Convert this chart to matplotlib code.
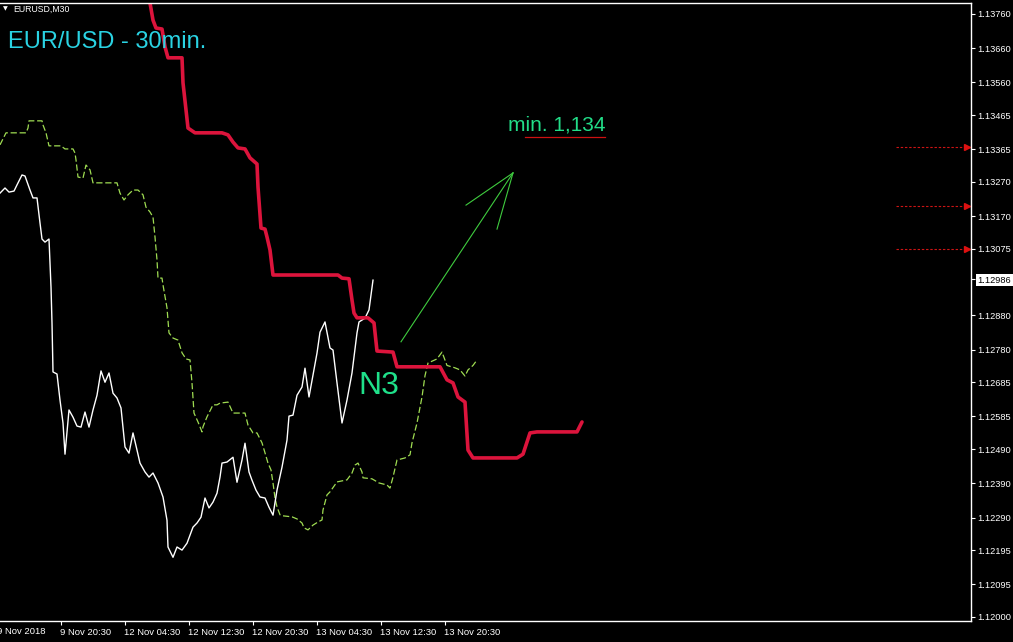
import matplotlib
matplotlib.use("Agg")
import matplotlib.pyplot as plt
from matplotlib import font_manager
import matplotlib.transforms as mtransforms

W, H = 1013, 642

# bar index: one 30 min bar per step, 0 = 9 Nov 12:30
white_x = [0.75, 2, 3, 4.25, 5, 6.25, 7, 8.25, 9, 10,
           10.75, 11.25, 12, 13, 13.5, 13.75, 14, 15, 15.75, 16.5,
           17, 18, 19, 20, 21, 22, 23, 24, 25, 26,
           27, 28, 29, 30, 31, 32, 33, 34, 35, 35.75,
           37, 38, 39, 40.25, 41.5, 42.5, 42.75, 44, 45, 46.25,
           47.5, 49, 50, 51, 52, 53, 54, 55, 55.75, 56.25,
           57.5, 59, 60, 61.25, 62, 63, 63.75, 64.75, 65.75, 67,
           68, 69, 70, 71.25, 72.5, 73, 74, 75, 76.25, 77,
           78, 79, 80, 80.75, 82, 83.25, 84, 85, 86.25, 87.5,
           88.75, 90, 90.5, 92, 93, 94]
white_y = [1.13237, 1.13252, 1.13240, 1.13243, 1.13261, 1.13290, 1.13287, 1.13246, 1.13223, 1.13223,
           1.13150, 1.13103, 1.13094, 1.13103, 1.12963, 1.12858, 1.12715, 1.12709, 1.12633, 1.12566,
           1.12475, 1.12604, 1.12583, 1.12557, 1.12554, 1.12598, 1.12554, 1.12604, 1.12647, 1.12718,
           1.12685, 1.12712, 1.12653, 1.12639, 1.12610, 1.12496, 1.12478, 1.12537, 1.12487, 1.12449,
           1.12423, 1.12408, 1.12420, 1.12391, 1.12350, 1.12282, 1.12204, 1.12174, 1.12204, 1.12195,
           1.12215, 1.12262, 1.12274, 1.12291, 1.12347, 1.12318, 1.12335, 1.12361, 1.12408, 1.12449,
           1.12452, 1.12466, 1.12393, 1.12458, 1.12507, 1.12423, 1.12399, 1.12370, 1.12350, 1.12347,
           1.12320, 1.12297, 1.12370, 1.12437, 1.12516, 1.12586, 1.12589, 1.12647, 1.12671, 1.12726,
           1.12642, 1.12706, 1.12770, 1.12831, 1.12861, 1.12785, 1.12779, 1.12683, 1.12566, 1.12633,
           1.12712, 1.12829, 1.12861, 1.12872, 1.12896, 1.12983]

green_x = [0.75, 2.25, 7.25, 7.75, 8, 11.25, 11.5, 12.25, 13, 16,
           17, 19, 19.5, 19.75, 20.25, 21.5, 22.25, 23.25, 24, 30,
           30.75, 31.75, 32.75, 34, 35.25, 36.5, 37.25, 38.25, 39, 39.5,
           40, 40.25, 41.25, 41.5, 42.5, 43, 44, 45.25, 46.25, 47.25,
           48.25, 48.75, 49.25, 50.25, 51.25, 51.5, 52.5, 54, 55, 55.75,
           57.75, 59, 62, 62.75, 64, 65, 66.25, 67, 67.75, 68.5,
           69, 69.5, 70, 70.75, 71.5, 73.75, 75, 76.25, 76.75, 77.75,
           79, 80.25, 81.25, 81.5, 82.5, 83.25, 85, 87.5, 88.75, 89.5,
           90.25, 91.25, 91.5, 93.75, 95.5, 97.5, 98.25, 99, 100, 102,
           103.25, 103.75, 105, 106.25, 107, 107.75, 110, 111.25, 112.5, 114.5,
           115.75, 117, 117.75, 119, 120]
green_y = [1.13378, 1.13413, 1.13413, 1.13427, 1.13448, 1.13448, 1.13436, 1.13413, 1.13375, 1.13375,
           1.13366, 1.13366, 1.13354, 1.13334, 1.13284, 1.13281, 1.13319, 1.13305, 1.13267, 1.13267,
           1.13237, 1.13217, 1.13232, 1.13246, 1.13246, 1.13232, 1.13196, 1.13182, 1.13167, 1.13109,
           1.13042, 1.12989, 1.12989, 1.12969, 1.12902, 1.12829, 1.12814, 1.12808, 1.12771, 1.12753,
           1.12750, 1.12683, 1.12595, 1.12569, 1.12540, 1.12555, 1.12584, 1.12619, 1.12619, 1.12624,
           1.12627, 1.12595, 1.12595, 1.12560, 1.12537, 1.12537, 1.12508, 1.12479, 1.12449, 1.12429,
           1.12391, 1.12347, 1.12321, 1.12298, 1.12295, 1.12292, 1.12286, 1.12274, 1.12260, 1.12254,
           1.12268, 1.12277, 1.12283, 1.12312, 1.12356, 1.12365, 1.12394, 1.12400, 1.12420, 1.12443,
           1.12449, 1.12423, 1.12406, 1.12403, 1.12391, 1.12385, 1.12376, 1.12408, 1.12458, 1.12464,
           1.12473, 1.12508, 1.12566, 1.12642, 1.12704, 1.12741, 1.12753, 1.12773, 1.12734, 1.12727,
           1.12721, 1.12703, 1.12721, 1.12734, 1.12750]

red_x = [38, 38.25, 39, 39.75, 41.25, 42, 42.75, 46.25, 46.5, 47.25,
         47.75, 49.5, 56.25, 57.75, 59, 60.25, 62, 63.25, 65, 65.25,
         66, 67, 67.5, 68.25, 69, 85.25, 86.25, 88, 88.75, 89.25,
         90, 92.75, 94.25, 95, 99, 100, 110.75, 112.5, 114, 115.25,
         117, 117.75, 119, 130, 131.5, 133.25, 135, 145, 146.25]
red_y = [1.13815, 1.13792, 1.13742, 1.13719, 1.13716, 1.13664, 1.13632, 1.13632, 1.13559, 1.13480,
         1.13427, 1.13413, 1.13413, 1.13407, 1.13386, 1.13369, 1.13366, 1.13340, 1.13322, 1.13255,
         1.13135, 1.13132, 1.13109, 1.13071, 1.12998, 1.12998, 1.12989, 1.12987, 1.12925, 1.12887,
         1.12873, 1.12873, 1.12858, 1.12776, 1.12773, 1.12730, 1.12730, 1.12692, 1.12683, 1.12642,
         1.12627, 1.12487, 1.12464, 1.12464, 1.12475, 1.12537, 1.12540, 1.12540, 1.12569]

# arrow drawn on chart: tail, tip, two barbs
arrow_x = [101, 129, 117.25, 125]
arrow_y = [1.12803, 1.13296, 1.13202, 1.13132]

alert_levels = [1.13372, 1.13200, 1.13075]

price_ticks = [1.13760, 1.13660, 1.13560, 1.13465, 1.13365, 1.13270, 1.13170, 1.13075,
               1.12986, 1.12880, 1.12780, 1.12685, 1.12585, 1.12490, 1.12390, 1.12290,
               1.12195, 1.12095, 1.12000]
current_price = 1.12986

time_ticks = [16, 32, 48, 64, 80, 96, 112]
time_labels = ["9 Nov 20:30", "12 Nov 04:30", "12 Nov 12:30", "12 Nov 20:30",
               "13 Nov 04:30", "13 Nov 12:30", "13 Nov 20:30"]
first_label = "9 Nov 2018"

installed = {f.name for f in font_manager.fontManager.ttflist}
base_font = "Liberation Sans"
narrow_font = "Liberation Sans Narrow" if "Liberation Sans Narrow" in installed else base_font

fig = plt.figure(figsize=(W / 100, H / 100), dpi=100, facecolor="black")
ax = fig.add_axes([0, 21 / H, 971 / W, 618 / H])
ax.set_facecolor("black")

ax.plot(green_x, green_y, color="#9fdc52", lw=0.9, dashes=(5, 2.2))
ax.plot(white_x, white_y, color="white", lw=1.0)
ax.plot(red_x, red_y, color="#dc143c", lw=2.6, solid_joinstyle="round", solid_capstyle="round")

# arrow object
ax.plot(arrow_x[:2], arrow_y[:2], color="#3fcc3f", lw=0.8)
ax.plot([arrow_x[1], arrow_x[2]], [arrow_y[1], arrow_y[2]], color="#3fcc3f", lw=0.8)
ax.plot([arrow_x[1], arrow_x[3]], [arrow_y[1], arrow_y[3]], color="#3fcc3f", lw=0.8)

ax.text(127.75, 1.13437, "min. 1,134", color="#22dd88", fontsize=15,
        family=narrow_font, va="center", ha="left")
ax.plot([132, 152], [1.13401, 1.13401], color="#cc1111", lw=0.9)
ax.text(90.25, 1.12674, "N3", color="#1fe08a", fontsize=23,
        family=narrow_font, va="center", ha="left")

# alert lines at the right edge
for lvl in alert_levels:
    ax.plot([224.75, 242.5], [lvl, lvl], color="#cc1414", lw=0.8, dashes=(2.2, 1.6))
    ax.plot([242.6], [lvl], marker=">", color="#dd1111", markersize=4.5, linestyle="none")

ax.set_xlim(0.75, 243.5)
ax.set_ylim(1.11988, 1.13792)

for side in ["top", "right", "bottom"]:
    ax.spines[side].set_color("white")
    ax.spines[side].set_linewidth(1.0)
ax.spines["left"].set_visible(False)

ax.yaxis.tick_right()
ax.set_yticks(price_ticks)
ax.set_yticklabels(["%.5f" % p for p in price_ticks])
ax.tick_params(axis="y", colors="white", labelsize=6.7, length=3, width=0.8, pad=1.5,
               left=False, right=True)
for lab in ax.get_yticklabels():
    lab.set_family(base_font)
    if lab.get_text() == "%.5f" % current_price:
        lab.set_color("black")
        lab.set_bbox(dict(facecolor="white", edgecolor="none", pad=1.2))

ax.set_xticks(time_ticks)
ax.set_xticklabels(time_labels)
ax.tick_params(axis="x", colors="white", labelsize=6.8, length=3, width=0.8, pad=2)
for lab in ax.get_xticklabels():
    lab.set_family(base_font)
    lab.set_ha("left")
    lab.set_x(0)

offset = mtransforms.ScaledTranslation(-1 / 100, 0, fig.dpi_scale_trans)
for lab in ax.get_xticklabels():
    lab.set_transform(lab.get_transform() + offset)

trans = mtransforms.blended_transform_factory(ax.transData, fig.transFigure)
ax.text(0, 1 - 631 / H, first_label, transform=trans, color="white", fontsize=6.8,
        family=base_font, ha="left", va="center", clip_on=False)

fig.text(3 / W, 1 - 9 / H, "\u25BC", color="white", fontsize=4.5, va="center", ha="left",
         family="DejaVu Sans")
fig.text(13 / W, 1 - 9 / H, "EURUSD,M30", color="white", fontsize=6.3, va="center",
         ha="left", family=base_font)
fig.text(8 / W, 1 - 42 / H, "EUR/USD - 30min.", color="#2ad3e3", fontsize=17,
         va="center", ha="left", family=base_font)

fig.savefig("out.png", dpi=100, facecolor="black")
